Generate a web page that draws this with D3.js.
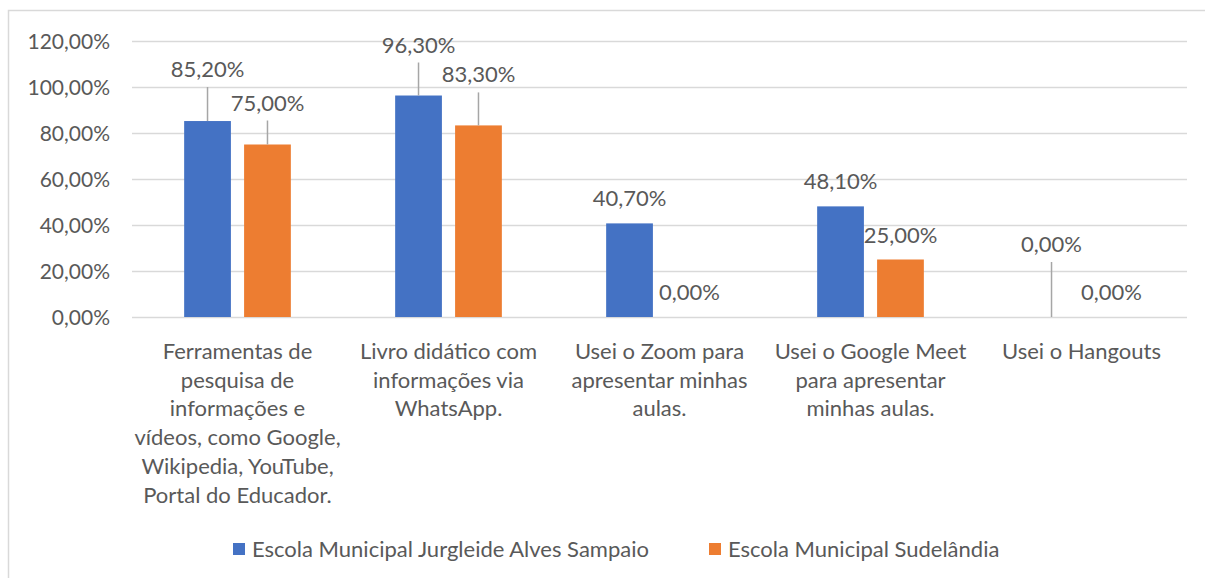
<!DOCTYPE html>
<html><head><meta charset="utf-8">
<script src="https://cdn.jsdelivr.net/npm/d3@7"></script>
<style>html,body{margin:0;padding:0;background:#fff;}svg{display:block;}</style>
</head><body>
<svg id="chart" width="1205" height="578"></svg>
<script>
const categories = [
  "Ferramentas de\npesquisa de\ninformações e\nvídeos, como Google,\nWikipedia, YouTube,\nPortal do Educador.",
  "Livro didático com\ninformações via\nWhatsApp.",
  "Usei o Zoom para\napresentar minhas\naulas.",
  "Usei o Google Meet\npara apresentar\nminhas aulas.",
  "Usei o Hangouts"
];
const seriesNames = ["Escola Municipal Jurgleide Alves Sampaio", "Escola Municipal Sudelândia"];
const jurgleide = [0.852, 0.963, 0.407, 0.481, 0.0];
const sudelandia = [0.75, 0.833, 0.0, 0.25, 0.0];
const yTicks = [0, 0.2, 0.4, 0.6, 0.8, 1.0, 1.2];

// layout: extra lift (px) of moved data labels, per category per series
const labelLift = [[27, 17], [26, 26], [0, 0], [0, 0], [48, 0]];

const colors = ["#4472c4", "#ed7d31"];
const textColor = "#595959";
const gridColor = "#d9d9d9";
const font = "Lato, 'Open Sans', sans-serif";
const fs = 22;

const loc = d3.formatLocale({decimal: ",", thousands: ".", grouping: [3], currency: ["", ""]});
const fmt = loc.format(".2%");

const svg = d3.select("#chart");
svg.append("rect").attr("x", 8.5).attr("y", 10.5).attr("width", 1300).attr("height", 700)
  .attr("fill", "#fff").attr("stroke", gridColor).attr("stroke-width", 1.5);

const y = d3.scaleLinear().domain([0, 1.2]).range([317, 41]);
const x0 = d3.scaleBand().domain(d3.range(categories.length)).range([132, 1187]).padding(0);
const x1 = d3.scaleBand().domain([0, 1]).range([0, x0.bandwidth()]).paddingInner(0.22).paddingOuter(0.87);

// grid
const yAxis = d3.axisLeft(y).tickValues(yTicks).tickSize(-(1187 - 132)).tickFormat(fmt).tickPadding(22);
const gy = svg.append("g").attr("transform", "translate(132,0)").call(yAxis);
gy.select(".domain").remove();
gy.selectAll(".tick line").attr("stroke", gridColor).attr("stroke-width", 1.5);
gy.selectAll(".tick text").attr("fill", textColor).attr("font-family", font).attr("font-size", 21)
  .attr("dy", "0.35em");

const data = categories.map((c, i) => ({i, vals: [jurgleide[i], sudelandia[i]]}));

const groups = svg.selectAll("g.cat").data(data).join("g").attr("class", "cat")
  .attr("transform", d => `translate(${x0(d.i)},0)`);

groups.selectAll("rect.bar").data(d => d.vals.map((v, s) => ({v, s, i: d.i}))).join("rect")
  .attr("class", "bar")
  .attr("x", d => x1(d.s)).attr("width", x1.bandwidth())
  .attr("y", d => y(d.v)).attr("height", d => y(0) - y(d.v))
  .attr("fill", d => colors[d.s]);

// labels + leader lines
groups.each(function(d) {
  const g = d3.select(this);
  d.vals.forEach((v, s) => {
    const cx = x1(s) + x1.bandwidth() / 2;
    const lift = labelLift[d.i][s];
    const base = y(v) - 17 - lift;
    if (lift > 0) {
      g.append("line").attr("x1", cx).attr("x2", cx).attr("y1", y(v)).attr("y2", base + 10)
        .attr("stroke", "#a6a6a6").attr("stroke-width", 1.5);
    }
    g.append("text").attr("x", cx).attr("y", base).attr("text-anchor", "middle")
      .attr("fill", textColor).attr("font-family", font).attr("font-size", fs).text(fmt(v));
  });
});

// category labels
categories.forEach((c, i) => {
  const t = svg.append("text").attr("text-anchor", "middle").attr("fill", textColor)
    .attr("font-family", font).attr("font-size", fs);
  c.split("\n").forEach((line, k) => {
    t.append("tspan").attr("x", x0(i) + x0.bandwidth() / 2).attr("y", 359 + k * 28.7).text(line);
  });
});

// legend
const legendX = [233, 709];
seriesNames.forEach((n, s) => {
  svg.append("rect").attr("x", legendX[s]).attr("y", 543).attr("width", 12).attr("height", 12).attr("fill", colors[s]);
  svg.append("text").attr("x", legendX[s] + 19).attr("y", 557).attr("fill", textColor)
    .attr("font-family", font).attr("font-size", fs).text(n);
});
</script>
</body></html>
